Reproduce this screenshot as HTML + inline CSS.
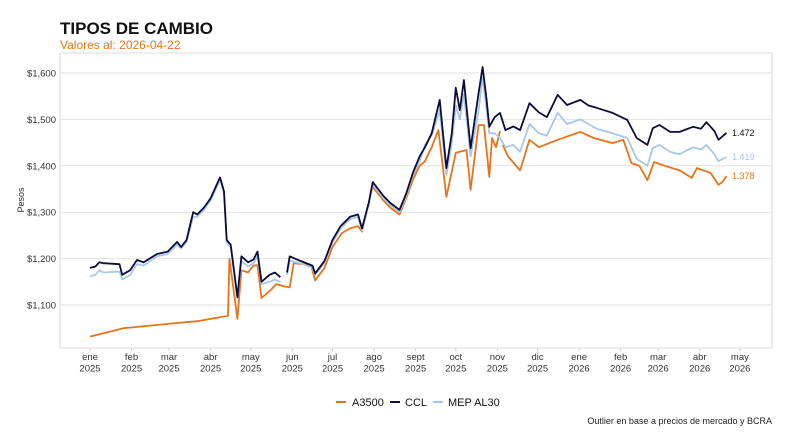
<!DOCTYPE html>
<html><head><meta charset="utf-8"><style>
body{margin:0;background:#fff;font-family:"Liberation Sans",Arial,sans-serif;}
svg{display:block}
</style></head><body>
<svg id="chart" width="800" height="437" viewBox="0 0 800 437">
<text x="60" y="34" font-size="17" font-weight="bold" fill="#111">TIPOS DE CAMBIO</text>
<text x="60" y="49" font-size="12" fill="#e8731a">Valores al: 2026-04-22</text>
<rect x="60" y="53" width="712" height="295" fill="none" stroke="#ddd"/>
<g id="grid"></g>
<g id="yticks"></g>
<g id="xticks"></g>
<text transform="translate(24,200) rotate(-90)" font-size="9" text-anchor="middle" fill="#333">Pesos</text>
<g id="series"></g>
<g>
<g><line x1="336" y1="402" x2="346" y2="402" stroke="#e8731a" stroke-width="2"/><text x="352" y="406" font-size="11" fill="#111">A3500</text></g>
<g><line x1="390" y1="402" x2="400" y2="402" stroke="#0d0d3a" stroke-width="2"/><text x="405" y="406" font-size="11" fill="#111">CCL</text></g>
<g><line x1="433" y1="402" x2="443" y2="402" stroke="#a8c8e8" stroke-width="2"/><text x="448" y="406" font-size="11" fill="#111">MEP AL30</text></g>
</g>
<text x="772" y="424" font-size="9" text-anchor="end" fill="#222">Outlier en base a precios de mercado y BCRA</text>
</svg>
<script>
const yTicks=[1100,1200,1300,1400,1500,1600];
const monthLabels=["ene","feb","mar","abr","may","jun","jul","ago","sept","oct","nov","dic","ene","feb","mar","abr","may"];
const monthYears=["2025","2025","2025","2025","2025","2025","2025","2025","2025","2025","2025","2025","2026","2026","2026","2026","2026"];
const monthDays=[0,31,59,90,120,151,181,212,243,273,304,334,365,396,424,455,485];
const cclDays=[0,4,7,10,22,24,30,35,40,50,58,65,68,72,77,80,85,90,97,100,102,105,110,113,118,122,125,128,134,138,142,null,147,149,157,166,168,175,181,187,194,200,203,208,211,219,224,231,236,241,246,250,255,261,266,270,273,276,279,284,290,293,296,298,302,306,310,316,321,328,335,341,349,356,366,372,378,390,401,408,416,420,425,433,440,450,456,460,466,469,475];
const cclValues=[1180,1183,1192,1190,1188,1165,1175,1197,1192,1210,1215,1236,1225,1240,1300,1295,1310,1330,1375,1345,1240,1230,1117,1205,1192,1198,1215,1150,1165,1170,1160,null,1170,1205,1195,1185,1168,1195,1240,1270,1290,1295,1265,1320,1365,1335,1320,1305,1340,1385,1420,1440,1470,1542,1395,1470,1568,1520,1585,1438,1557,1613,1542,1484,1505,1514,1477,1485,1477,1535,1515,1505,1553,1531,1542,1530,1525,1514,1499,1460,1445,1481,1488,1473,1473,1484,1480,1494,1475,1456,1471];
const mepValues=[1162,1165,1175,1170,1172,1155,1165,1188,1185,1205,1210,1230,1222,1235,1290,1290,1305,1325,1370,1340,1235,1225,1115,1195,1183,1190,1205,1145,1150,1155,1150,null,1165,1195,1190,1180,1165,1190,1235,1265,1285,1290,1260,1315,1360,1330,1315,1300,1335,1380,1410,1445,1465,1520,1380,1450,1530,1500,1555,1420,1520,1590,1520,1470,1470,1460,1440,1445,1430,1490,1470,1465,1514,1490,1500,1490,1480,1470,1460,1415,1400,1438,1445,1430,1425,1440,1435,1445,1425,1410,1419];
const a3500Days=[0,25,60,80,103,104,110,113,118,122,125,128,134,139,145,149,152,160,165,168,175,181,188,194,200,203,211,219,224,231,236,241,246,250,255,260,266,273,281,284,290,294,298,300,303,306,null,308,312,321,328,335,349,366,376,390,398,404,410,416,421,429,440,449,453,463,469,472,475];
const a3500Values=[1032,1050,1060,1065,1077,1200,1070,1175,1170,1185,1186,1115,1130,1145,1140,1138,1190,1188,1185,1153,1180,1225,1255,1265,1270,1258,1355,1325,1310,1295,1330,1370,1400,1410,1440,1477,1333,1428,1434,1348,1488,1488,1376,1460,1440,1475,null,1445,1420,1390,1456,1440,1456,1473,1460,1449,1456,1406,1400,1369,1408,1400,1390,1374,1395,1385,1359,1365,1378];
const endLabels=["1.472","1.419","1.378"];

const NS="http://www.w3.org/2000/svg";
const xScale=d=>90+d*1.34;
const yScale=v=>73+(1600-v)*0.464;
const grid=document.getElementById('grid'),yt=document.getElementById('yticks'),xt=document.getElementById('xticks'),ser=document.getElementById('series');
yTicks.forEach(v=>{
  const l=document.createElementNS(NS,'line');
  l.setAttribute('x1',60);l.setAttribute('x2',772);l.setAttribute('y1',yScale(v));l.setAttribute('y2',yScale(v));
  l.setAttribute('stroke','#e2e2e2');
  
  
  grid.appendChild(l);
  const t=document.createElementNS(NS,'text');
  t.setAttribute('x',56);t.setAttribute('y',yScale(v)+3.5);t.setAttribute('text-anchor','end');t.setAttribute('font-size','9.5');t.setAttribute('fill','#333');
  t.textContent='$'+(v/1000).toFixed(3).replace('.',',');
  
  
  yt.appendChild(t);
});
monthLabels.forEach((m,i)=>{
  const x=xScale(monthDays[i]);
  const tk=document.createElementNS(NS,'line');
  tk.setAttribute('x1',x);tk.setAttribute('x2',x);tk.setAttribute('y1',348);tk.setAttribute('y2',351);tk.setAttribute('stroke','#ccc');
  
  
  xt.appendChild(tk);
  const t=document.createElementNS(NS,'text');
  t.setAttribute('x',x);t.setAttribute('y',360);t.setAttribute('text-anchor','middle');t.setAttribute('font-size','9.5');t.setAttribute('fill','#333');
  t.innerHTML='<tspan x="'+x+'">'+m+'</tspan><tspan x="'+x+'" dy="11.5">'+monthYears[i]+'</tspan>';
  
  
  xt.appendChild(t);
});
function path(days,vals){
  let d='',pen=false;
  const n=Math.min(days.length,vals.length);
  for(let i=0;i<n;i++){
    if(days[i]==null||vals[i]==null){pen=false;continue;}
    d+=(pen?'L':'M')+xScale(days[i]).toFixed(1)+','+yScale(vals[i]).toFixed(1);pen=true;
  }
  return d;
}
function draw(days,vals,color,name){
  const p=document.createElementNS(NS,'path');
  p.setAttribute('d',path(days,vals));p.setAttribute('fill','none');p.setAttribute('stroke',color);p.setAttribute('stroke-width','1.8');p.setAttribute('stroke-linejoin','round');
  
  
  ser.appendChild(p);
}
draw(a3500Days,a3500Values,'#e8731a','a3500-line');
draw(cclDays,mepValues,'#a8c8e8','mep-al30-line');
draw(cclDays,cclValues,'#0d0d3a','ccl-line');
const lastC=cclValues[cclValues.length-1],lastM=mepValues[mepValues.length-1],lastA=a3500Values[a3500Values.length-1];
[[lastC,'#111',endLabels[0]],[lastM,'#a8c8e8',endLabels[1]],[lastA,'#e8731a',endLabels[2]]].forEach(([v,c,s])=>{
  const t=document.createElementNS(NS,'text');
  t.setAttribute('x',732);t.setAttribute('y',yScale(v)+3);t.setAttribute('font-size','9');t.setAttribute('fill',c);
  t.textContent=s;
  
  
  ser.appendChild(t);
});
</script>
</body></html>
